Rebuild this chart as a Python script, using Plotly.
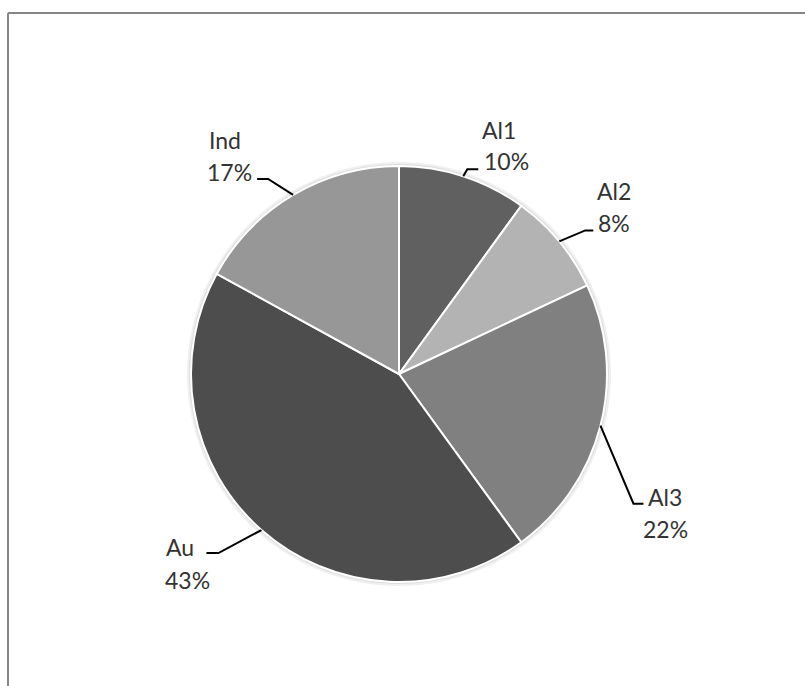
import math
import plotly.graph_objects as go

# Share of each category (percent)
names = ["Al1", "Al2", "Al3", "Au", "Ind"]
shares = [10, 8, 22, 43, 17]
colors = ["#606060", "#b3b3b3", "#808080", "#4d4d4d", "#979797"]

W, H = 805, 686
CX, CY, R = 399, 374, 208  # pie centre and radius, pixels

# Leader-line layout per slice: elbow offset from the rim, horizontal run,
# and offsets of the name / percent text from the end of the leader.
elbow_off = [(4, -7), (26, -11), (33, 78), (-43, 23), (-25, -16)]
run_len = [11, 8, 10, -12, -11]
name_off = [(21, -39), (21, -39), (22, -7), (-26, -6), (-32, -39)]
pct_off = [(28, -8), (21, -7), (22, 25), (-19, 27), (-28, -7)]

FONT = "Lato, 'Open Sans', sans-serif"
TEXT_COLOR = "#333333"


def px(x):
    return x / W


def py(y):
    return 1 - y / H


fig = go.Figure(
    go.Pie(
        labels=names,
        values=shares,
        sort=False,
        direction="clockwise",
        rotation=0,
        marker=dict(colors=colors, line=dict(color="white", width=2)),
        textinfo="none",
        hoverinfo="label+percent",
        showlegend=False,
        domain=dict(x=[px(CX - R), px(CX + R)], y=[py(CY + R), py(CY - R)]),
    )
)

shapes = []
annotations = []

# faint shadow ring around the pie
for extra, col in [(4, "#f0f0f0"), (2, "#dedede")]:
    shapes.append(dict(
        type="circle", xref="paper", yref="paper", layer="below",
        x0=px(CX - R - extra), x1=px(CX + R + extra),
        y0=py(CY + R + extra), y1=py(CY - R - extra),
        fillcolor=col, line=dict(width=0),
    ))

total = sum(shares)
cum = 0
for i, (name, v) in enumerate(zip(names, shares)):
    mid = (cum + v / 2) / total * 2 * math.pi
    cum += v
    ex = CX + R * math.sin(mid)
    ey = CY - R * math.cos(mid)
    bx, by = ex + elbow_off[i][0], ey + elbow_off[i][1]
    tx, ty = bx + run_len[i], by
    shapes.append(dict(
        type="path", xref="paper", yref="paper",
        path=f"M {px(ex)} {py(ey)} L {px(bx)} {py(by)} L {px(tx)} {py(ty)}",
        line=dict(color="black", width=2),
    ))
    pct = f"{round(v / total * 100)}%"
    for text, off in [(name, name_off[i]), (pct, pct_off[i])]:
        annotations.append(dict(
            x=px(tx + off[0]), y=py(ty + off[1]), xref="paper", yref="paper",
            text=text, showarrow=False, xanchor="center", yanchor="middle",
            font=dict(family=FONT, size=23, color=TEXT_COLOR),
        ))

# chart-area frame (top and left edges)
shapes.append(dict(type="line", xref="paper", yref="paper",
                   x0=px(8), x1=px(810), y0=py(13), y1=py(13),
                   line=dict(color="#868686", width=2)))
shapes.append(dict(type="line", xref="paper", yref="paper",
                   x0=px(8), x1=px(8), y0=py(13), y1=py(700),
                   line=dict(color="#868686", width=2)))

fig.update_layout(
    width=W, height=H,
    margin=dict(l=0, r=0, t=0, b=0),
    paper_bgcolor="white",
    plot_bgcolor="white",
    shapes=shapes,
    annotations=annotations,
)

fig.write_html("out.html")
